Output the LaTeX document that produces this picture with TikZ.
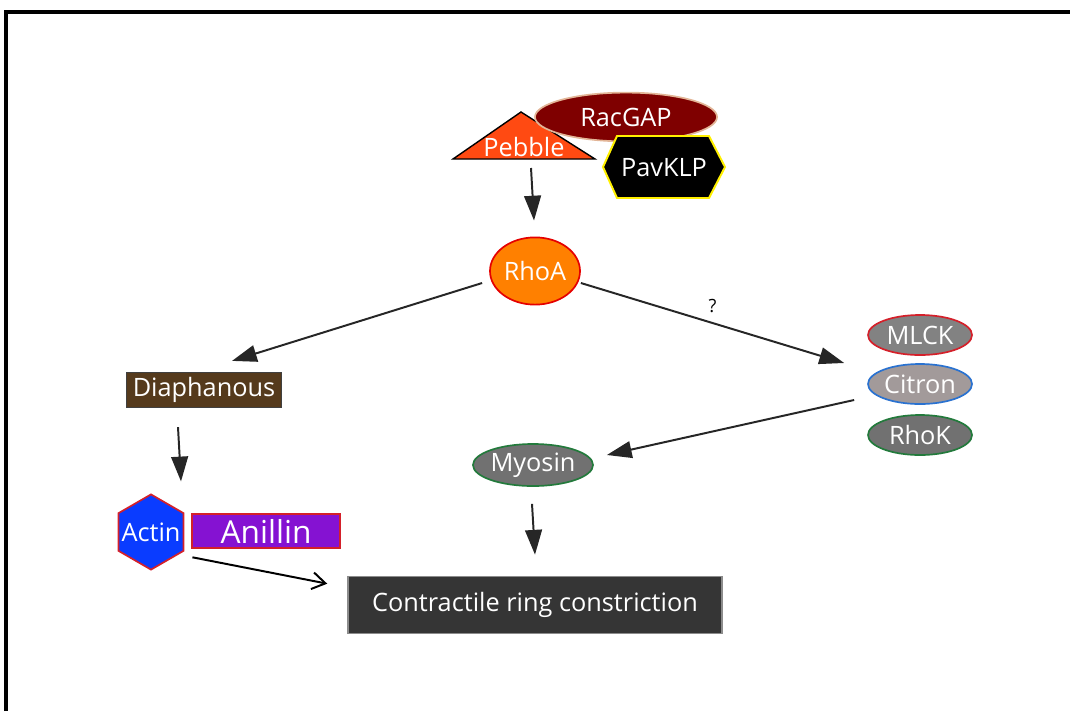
\documentclass[tikz,border=0pt]{standalone}
\usepackage{fontspec}
\setmainfont{Open Sans}
\usetikzlibrary{shapes.geometric,arrows.meta}

\definecolor{racred}{HTML}{7F0000}
\definecolor{racrim}{HTML}{E2B597}
\definecolor{pebbleorange}{HTML}{FF4A12}
\definecolor{pavrim}{HTML}{FFF000}
\definecolor{rhoorange}{HTML}{FF8000}
\definecolor{diabrown}{HTML}{553A1C}
\definecolor{actinblue}{HTML}{0A3CFF}
\definecolor{anipurple}{HTML}{8512D2}
\definecolor{mlckgray}{HTML}{828282}
\definecolor{citgray}{HTML}{A29A9A}
\definecolor{rhokgray}{HTML}{717171}
\definecolor{rimred}{HTML}{D4202A}
\definecolor{rimblue}{HTML}{2A72D0}
\definecolor{rimgreen}{HTML}{237A3C}
\definecolor{ringgray}{HTML}{353535}

\begin{document}
\begin{tikzpicture}[x=0.025cm, y=-0.025cm,
    lbl/.style={text=white, font=\fontsize{18}{20}\selectfont, inner sep=0pt},
    prot/.style={ellipse, lbl, line width=1.2pt, minimum width=2.6cm, minimum height=1cm},
    arr/.style={draw=black!85, line width=1.4pt, -{Triangle[length=0.62cm,width=0.42cm]}},
    openarr/.style={draw=black, line width=1.4pt, -{Straight Barb[length=0.33cm,width=0.42cm]}}]

    \useasboundingbox (0,0) rectangle (1070,711);
    \draw[line width=0.1cm] (6,711) -- (6,12) -- (1070,12);

    \filldraw[fill=pebbleorange, draw=black, line width=1pt] (521,112) -- (595,159) -- (453,159) -- cycle;
    \node[lbl] (pebble) at (524,147) {Pebble};
    \node[ellipse, lbl, fill=racred, draw=racrim, line width=1.2pt, minimum width=4.55cm, minimum height=1.22cm] (racgap) at (626,117) {RacGAP};
    \filldraw[fill=black, draw=pavrim, line width=1.4pt] (603,167) -- (617,136) -- (709,136) -- (725,167) -- (709,198) -- (617,198) -- cycle;
    \node[lbl] (pavklp) at (664,168) {PavKLP};

    \node[prot, fill=rhoorange, draw=red!90!black, minimum width=2.25cm, minimum height=1.68cm] (rhoa) at (535,271) {RhoA};

    \node[lbl, fill=diabrown, draw=black!75, line width=1pt, minimum width=3.87cm, minimum height=0.87cm] (diaph) at (204,390) {Diaphanous};
    \node[regular polygon, regular polygon sides=6, regular polygon rotate=30, inner sep=0pt, fill=actinblue, draw=rimred, line width=1.2pt, minimum size=1.88cm,
        label={[lbl]center:Actin}] (actin) at (151,532) {};
    \node[lbl, fill=anipurple, draw=rimred, line width=1pt, minimum width=3.7cm, minimum height=0.85cm, font=\fontsize{22.5}{24}\selectfont] (anillin) at (266,531) {Anillin};

    \node[prot, fill=mlckgray, draw=rimred] (mlck) at (920,335) {MLCK};
    \node[prot, fill=citgray, draw=rimblue] (citron) at (920,384) {Citron};
    \node[prot, fill=rhokgray, draw=rimgreen] (rhok) at (920,435) {RhoK};
    \node[prot, fill=rhokgray, draw=rimgreen, minimum width=2.58cm, minimum height=1.05cm] (myosin) at (533,465) {Myosin};

    \node[lbl, fill=ringgray, draw=black!45, line width=1pt, minimum width=9.35cm, minimum height=1.43cm] (ring) at (535,605) {Contractile ring constriction};

    \draw[arr] ([shift={(7,21)}]pebble.center) -- ([shift={(-1,-16)}]rhoa.north);
    \draw[arr] ([shift={(-7,12)}]rhoa.west) -- ([shift={(28,-11)}]diaph.north);
    \draw[arr] ([shift={(0,12)}]rhoa.east) -- ([shift={(-23,-21)}]citron.west)
        node[midway, yshift=0.42cm, text=black, font=\fontsize{13}{14}\selectfont] (unknown) {?};
    \draw[arr] ([shift={(-13,16)}]citron.west) -- ([shift={(13,-10)}]myosin.east);
    \draw[arr] ([shift={(-26,19)}]diaph.south) -- ([shift={(30,-12)}]actin.north);
    \draw[arr] ([shift={(-1,17)}]myosin.south) -- ([shift={(0,-21)}]ring.north);
    \draw[openarr] ([shift={(8,6)}]actin.-30) -- ([shift={(-20,8)}]ring.north west);

\end{tikzpicture}
\end{document}
